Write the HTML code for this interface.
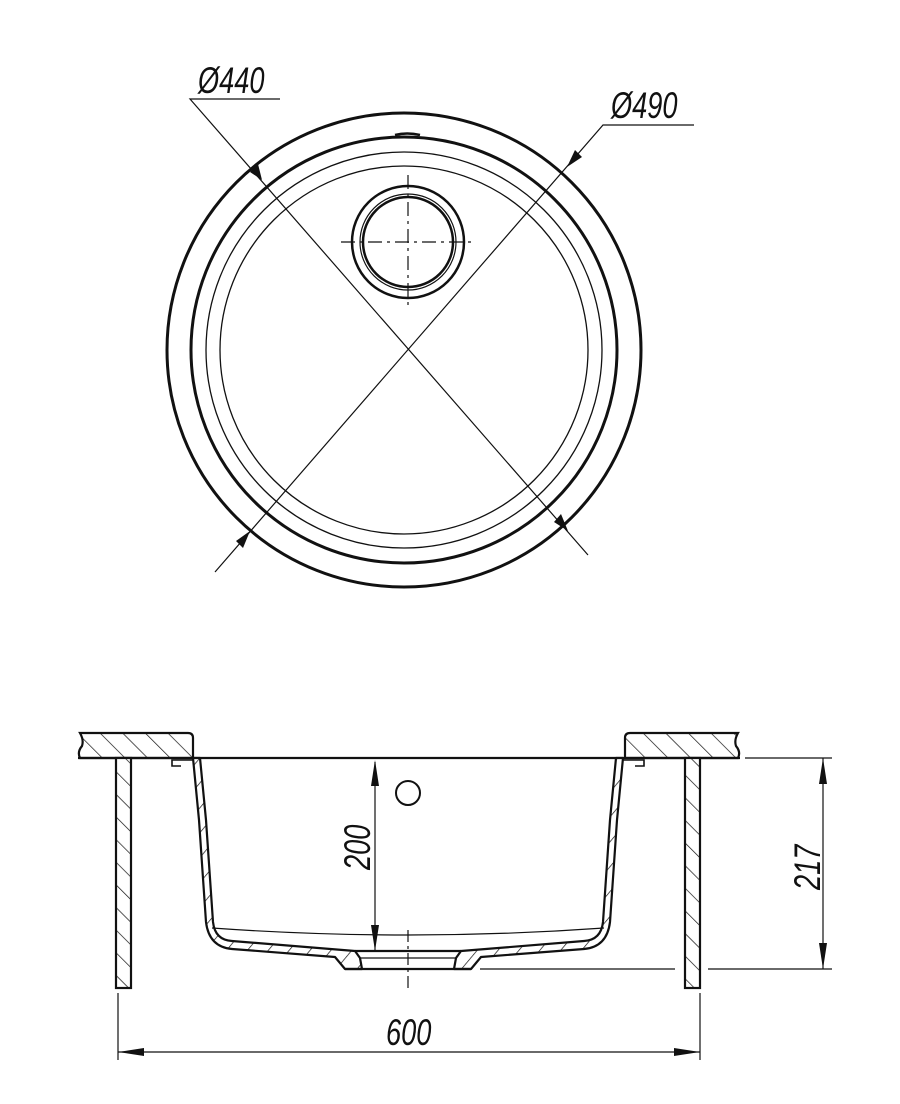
<!DOCTYPE html>
<html><head><meta charset="utf-8"><style>
html,body{margin:0;padding:0;background:#fff}
svg{display:block}
text{font-family:"Liberation Sans",sans-serif;font-style:italic;fill:#111}
</style></head><body>
<svg width="900" height="1104" viewBox="0 0 900 1104" xmlns="http://www.w3.org/2000/svg">
<defs>
<pattern id="h" patternUnits="userSpaceOnUse" width="16" height="16" patternTransform="rotate(-45)">
<rect width="16" height="16" fill="#fff"/><line x1="0" y1="0" x2="0" y2="16" stroke="#111" stroke-width="1.4"/>
</pattern>
<pattern id="h2" patternUnits="userSpaceOnUse" width="16" height="16" patternTransform="rotate(40)">
<rect width="16" height="16" fill="#fff"/><line x1="0" y1="0" x2="0" y2="16" stroke="#111" stroke-width="1.4"/>
</pattern>
</defs>
<g fill="none" stroke="#111">
<circle cx="404" cy="350" r="237" stroke-width="3"/>
<circle cx="404" cy="350" r="213" stroke-width="3"/>
<circle cx="404" cy="350" r="198" stroke-width="1.3"/>
<circle cx="404" cy="350" r="184" stroke-width="1.3"/>
<path d="M395,135 Q407,132 420,135" stroke-width="2.5"/>
<circle cx="408" cy="242" r="56" stroke-width="2.5"/>
<circle cx="408" cy="242" r="48" stroke-width="1.2"/>
<circle cx="408" cy="242" r="45" stroke-width="2.5"/>
<line x1="341" y1="242" x2="473" y2="242" stroke-width="1.2" stroke-dasharray="14,5,3,5"/>
<line x1="408" y1="175" x2="408" y2="307" stroke-width="1.2" stroke-dasharray="14,5,3,5"/>
<polyline points="280,99 190,99 588,555" stroke-width="1.2"/>
<polyline points="694,125 603,125 215,572" stroke-width="1.2"/>
</g>
<g fill="#111">
<polygon points="262,180 250,172 258,164"/>
<polygon points="568,531 554,522 561,514"/>
<polygon points="567,167 575,150 582,157"/>
<polygon points="250,531 243,548 236,541"/>
</g>
<text font-size="32" transform="translate(198,93) scale(0.85,1.15)">Ø440</text>
<text font-size="32" transform="translate(611,118) scale(0.85,1.15)">Ø490</text>

<g stroke="#111" stroke-width="2.2">
<path d="M80,733 L188,733 Q193,733 193,738 L193,758 L80,758 Q77,752 82,746 Q84,740 80,733 Z" fill="url(#h)"/>
<path d="M738,733 L630,733 Q625,733 625,738 L625,758 L738,758 Q741,752 736,746 Q734,740 738,733 Z" fill="url(#h)"/>
<line x1="78" y1="758" x2="740" y2="758"/>
<rect x="116" y="758" width="15" height="230" fill="url(#h)"/>
<rect x="685" y="758" width="15" height="230" fill="url(#h)"/>
<path d="M193,758 L199,820 L206,922 Q209,947 232,949 L335,957 L345,969 L362,969 L360,958 L355,951 L232,941 Q215,940 213,922 L206,820 L200,758 Z" fill="url(#h2)" stroke-linejoin="round"/>
<path d="M623,758 L617,820 L610,922 Q607,947 584,949 L481,957 L471,969 L454,969 L456,958 L461,951 L584,941 Q601,940 603,922 L610,820 L616,758 Z" fill="url(#h2)" stroke-linejoin="round"/>
<polyline points="193,760 172,760 172,766 181,766" fill="none" stroke-width="1.6"/>
<polyline points="623,760 644,760 644,766 635,766" fill="none" stroke-width="1.6"/>
<line x1="355" y1="951" x2="461" y2="951"/>
<line x1="360" y1="958" x2="456" y2="958" stroke-width="1.3"/>
<line x1="345" y1="969" x2="471" y2="969"/>
</g>
<g fill="none" stroke="#111" stroke-width="1.2">
<path d="M212,928 Q408,942 604,928"/>
<circle cx="408" cy="793" r="12" stroke-width="2"/>
<line x1="408" y1="930" x2="408" y2="988" stroke-dasharray="12,4,3,4"/>
<line x1="375" y1="762" x2="375" y2="951"/>
<line x1="745" y1="758" x2="832" y2="758"/>
<line x1="480" y1="969" x2="675" y2="969"/>
<line x1="708" y1="969" x2="832" y2="969"/>
<line x1="823" y1="758" x2="823" y2="969"/>
<line x1="118" y1="993" x2="118" y2="1060"/>
<line x1="700" y1="993" x2="700" y2="1060"/>
<line x1="118" y1="1052" x2="700" y2="1052"/>
</g>
<g fill="#111">
<polygon points="375,760 371,786 379,786"/>
<polygon points="375,951 371,925 379,925"/>
<polygon points="823,758 819,784 827,784"/>
<polygon points="823,969 819,943 827,943"/>
<polygon points="118,1052 144,1048 144,1056"/>
<polygon points="700,1052 674,1048 674,1056"/>
</g>
<text font-size="32" transform="translate(370,870) rotate(-90) scale(0.85,1.15)">200</text>
<text font-size="32" transform="translate(820,890) rotate(-90) scale(0.85,1.15)">217</text>
<text font-size="32" transform="translate(386,1045) scale(0.85,1.15)">600</text>
</svg>
</body></html>
